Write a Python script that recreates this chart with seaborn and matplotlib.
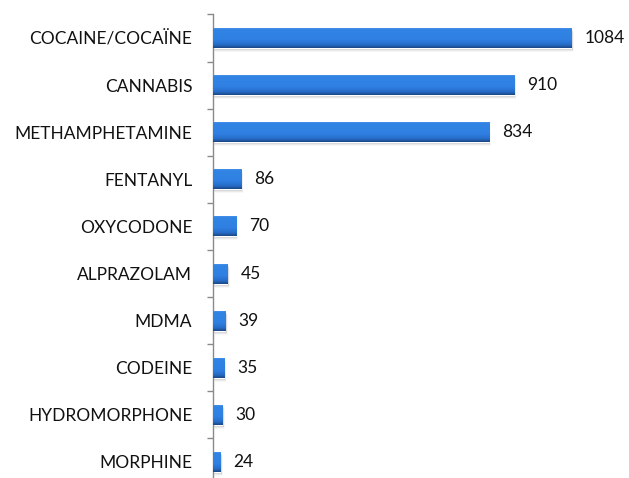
import numpy as np
import pandas as pd
import matplotlib
matplotlib.use("Agg")
import matplotlib.pyplot as plt
import matplotlib.colors as mcolors
from matplotlib.patches import Rectangle
from matplotlib.ticker import FixedLocator
import seaborn as sns

# data
drugs = ["COCAINE/COCAÏNE", "CANNABIS", "METHAMPHETAMINE", "FENTANYL", "OXYCODONE",
         "ALPRAZOLAM", "MDMA", "CODEINE", "HYDROMORPHONE", "MORPHINE"]
counts = [1084, 910, 834, 86, 70, 45, 39, 35, 30, 24]

sns.set_theme(style="white")
plt.rcParams['font.family'] = ['Lato', 'DejaVu Sans']

df = pd.DataFrame({"drug": drugs, "count": counts})

W, H = 629, 478
fig = plt.figure(figsize=(W / 100, H / 100), dpi=100)
# axis line at x=212.5px, top at 14.5px, category pitch ~47.1px (last row runs off the bottom)
left, top, pitch = 212.5, 14.5, 47.1
ax_h = pitch * len(drugs)
ax_w = 1200 * 0.331
ax = fig.add_axes([left / W, (H - top - ax_h) / H, ax_w / W, ax_h / H])

sns.barplot(data=df, x="count", y="drug", orient="h", width=0.425,
            color="#2f80e2", ax=ax, saturation=1)

ax.set_xlim(0, 1200)
ax.set_ylim(len(drugs) - 0.5, -0.5)

# gradient fill + soft shadow for each bar
grad = mcolors.LinearSegmentedColormap.from_list(
    "bar", [(0, "#5b9bea"), (0.1, "#3184e4"), (0.6, "#2f80e2"),
            (0.85, "#276cc8"), (1, "#1a4682")])
img = np.linspace(0, 1, 64).reshape(-1, 1)
px_x = 1 / 0.331
px_y = 1 / pitch
for p in ax.patches:
    x0, y0 = p.get_x(), p.get_y()
    w, h = p.get_width(), p.get_height()
    for k, a in [(1, 0.22), (2, 0.14), (3, 0.08), (4, 0.04)]:
        ax.add_patch(Rectangle((x0 + k * 0.6 * px_x, y0 + k * px_y), w, h,
                               facecolor="#4a4a4a", alpha=a, lw=0, zorder=1))
    p.set_zorder(2)
    im = ax.imshow(img, cmap=grad, aspect="auto", extent=(x0, x0 + w, y0 + h, y0),
                   zorder=3, interpolation="bicubic")
    im.set_clip_path(p)
    ax.annotate(f"{int(w)}", xy=(x0 + w, y0 + h / 2), xytext=(9.5, 0),
                textcoords="offset points", va="center", ha="left",
                fontsize=12.5, color="#111111")

ax.set_xlabel("")
ax.set_ylabel("")
ax.set_xticks([])
for s in ["top", "right", "bottom"]:
    ax.spines[s].set_visible(False)
ax.spines["left"].set_color("#8a8a8a")
ax.spines["left"].set_linewidth(1)

ax.yaxis.set_minor_locator(FixedLocator(np.arange(-0.5, len(drugs), 1)))
ax.tick_params(axis="y", which="major", length=0, pad=14.5, labelsize=12.5,
               labelcolor="#111111")
ax.tick_params(axis="y", which="minor", length=4, width=1, color="#8a8a8a", left=True)

fig.savefig("out.png", dpi=100)
